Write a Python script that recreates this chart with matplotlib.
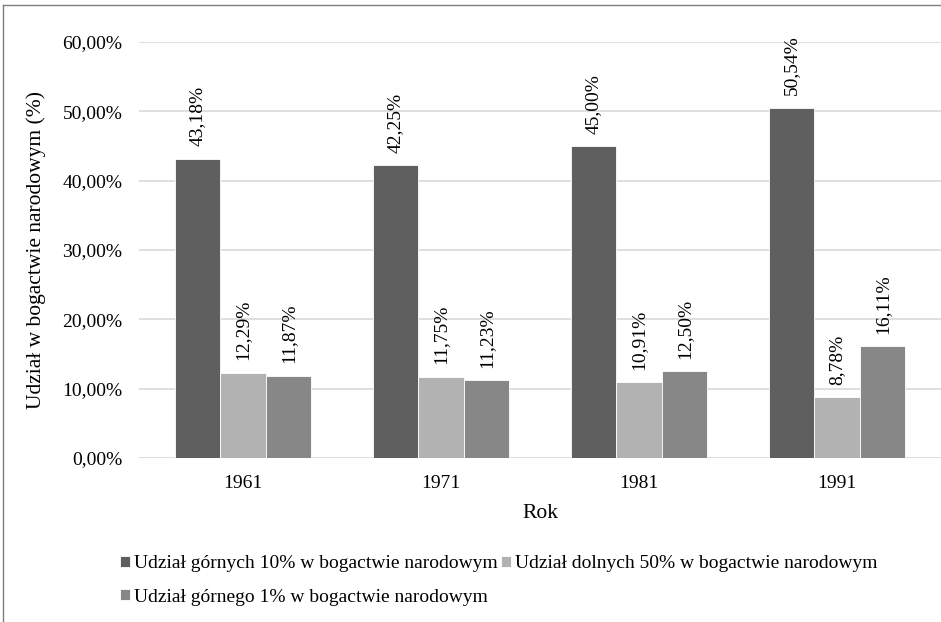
import matplotlib.pyplot as plt
import numpy as np
from matplotlib.lines import Line2D

plt.rcParams['font.family'] = ['Liberation Serif', 'DejaVu Serif']
plt.rcParams['font.size'] = 14

years = ['1961', '1971', '1981', '1991']
top10 = [43.18, 42.25, 45.00, 50.54]
bottom50 = [12.29, 11.75, 10.91, 8.78]
top1 = [11.87, 11.23, 12.50, 16.11]
series_names = ['Udział górnych 10% w bogactwie narodowym',
                'Udział dolnych 50% w bogactwie narodowym',
                'Udział górnego 1% w bogactwie narodowym']
colors = ['#5f5f5f', '#b2b2b2', '#878787']

W, H = 941, 622
fig = plt.figure(figsize=(W / 100, H / 100), dpi=100)
ax = fig.add_axes([139 / W, 1 - 458 / H, (941 - 139) / W, (458 - 42) / H])

x = np.arange(len(years))
bw = 0.23
handles = []
for i, (vals, name, c) in enumerate(zip([top10, bottom50, top1], series_names, colors)):
    bars = ax.bar(x + (i - 1) * bw, vals, bw, color=c, edgecolor='white', linewidth=0.6, label=name, zorder=3)
    handles.append(bars)
    for xi, v in zip(x + (i - 1) * bw, vals):
        ax.annotate(f'{v:.2f}%'.replace('.', ','), (xi, v), xytext=(0, 9), textcoords='offset points',
                    rotation=90, ha='center', va='bottom', fontsize=14)

ax.set_xlim(-0.525, 3.525)
ax.set_ylim(0, 60)
ax.set_yticks(range(0, 61, 10))
ax.set_yticklabels([f'{v},00%' for v in range(0, 61, 10)])
ax.set_xticks(x)
ax.set_xticklabels(years)
ax.tick_params(length=0)
ax.tick_params(axis='y', pad=12)
ax.tick_params(axis='x', pad=12)
ax.grid(axis='y', color='#d9d9d9', linewidth=1.2, zorder=0)
for s in ax.spines.values():
    s.set_visible(False)
ax.set_xlabel('Rok', fontsize=15.5, labelpad=9)
ax.set_ylabel('Udział w bogactwie narodowym (%)', fontsize=15.5, labelpad=12)

# legend filled column-wise, so reorder to get the two-row layout
leg = fig.legend([handles[0], handles[2], handles[1]],
                 [series_names[0], series_names[2], series_names[1]],
                 ncol=2, loc='upper left', bbox_to_anchor=(120 / W, 1 - 555 / H),
                 frameon=False, borderpad=0, borderaxespad=0,
                 handlelength=0.5, handleheight=0.5, handletextpad=0.2,
                 columnspacing=0.2, labelspacing=0.85, fontsize=14)

# outer frame (left and top edges)
fig.add_artist(Line2D([3 / W, 3 / W], [0, 1 - 5 / H], color='#7f7f7f', linewidth=1))
fig.add_artist(Line2D([3 / W, 1], [1 - 5 / H, 1 - 5 / H], color='#7f7f7f', linewidth=1))

fig.savefig('out.png', dpi=100)
